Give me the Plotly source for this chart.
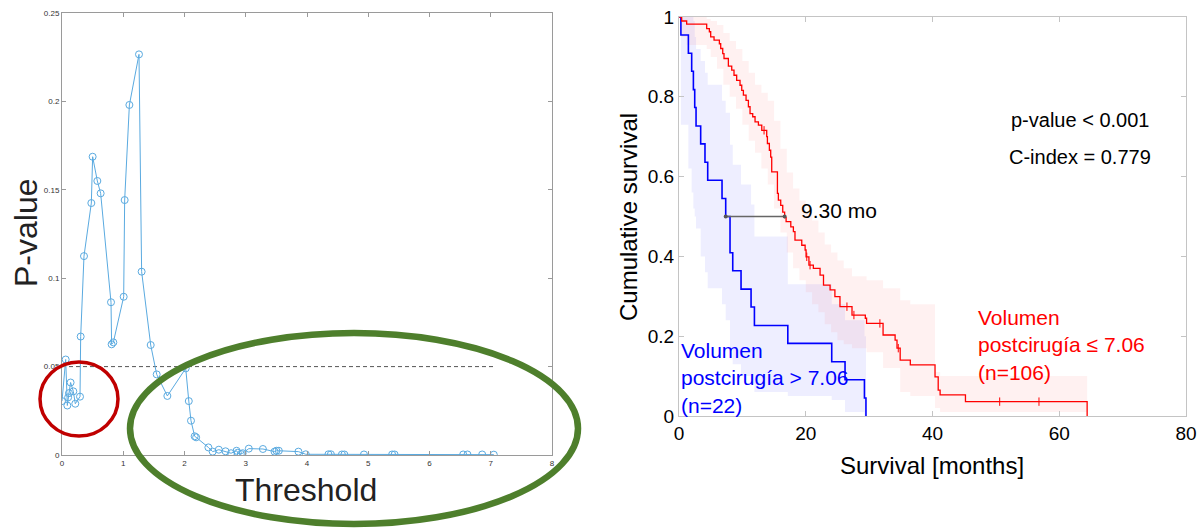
import plotly.graph_objects as go

W, H = 1203, 528

# ---------------- left panel: p-value vs. threshold ----------------
threshold = [0, 0.06, 0.087, 0.10, 0.114, 0.14, 0.185, 0.217, 0.294, 0.305,
             0.359, 0.479, 0.50, 0.577, 0.631, 0.80, 0.81, 0.838, 1.007, 1.023,
             1.10, 1.257, 1.30, 1.448, 1.546, 1.72, 2.02, 2.07, 2.106, 2.166,
             2.19, 2.39, 2.46, 2.56, 2.67, 2.76, 2.85, 2.87, 2.92, 2.95,
             3.05, 3.28, 3.47, 3.50, 3.54, 3.86, 3.98, 4.35, 4.39, 4.57,
             4.61, 4.93, 5.39, 5.43, 6.55, 6.62, 6.86, 7.05]
p_value = [0.0305, 0.054, 0.028, 0.0326, 0.035, 0.041, 0.036, 0.029, 0.033, 0.067,
           0.1125, 0.1425, 0.1687, 0.155, 0.148, 0.0864, 0.0626, 0.0637, 0.0895, 0.1442,
           0.198, 0.2266, 0.1037, 0.0622, 0.0456, 0.0334, 0.049, 0.0305, 0.0194, 0.0106,
           0.010, 0.0043, 0.0019, 0.003, 0.0021, 0.001, 0.0024, 0.0013, 0.0006, 0.001,
           0.0036, 0.0034, 0.0019, 0.0024, 0.0024, 0.0019, 0.0004, 0.0004, 0.0004, 0.0003,
           0.0003, 0.0003, 0.0003, 0.0003, 0.0003, 0.0003, 0.0003, 0.0002]
alpha = 0.05
left_xticks = [0, 1, 2, 3, 4, 5, 6, 7, 8]
left_yticks = [0, 0.05, 0.1, 0.15, 0.2, 0.25]
left_yticklabels = ["0", "0.05", "0.1", "0.15", "0.2", "0.25"]

# ---------------- right panel: Kaplan-Meier curves ----------------
# group "> 7.06" (n=22)
blue_t = [0, 0.3, 1.48, 2.0, 2.27, 2.48, 2.69, 3.42, 4.1, 4.53, 6.79, 7.37,
          8.05, 8.48, 9.79, 11.37, 11.9, 17.17, 24.1, 26.2, 29.26, 29.5]
blue_s = [1, 0.955, 0.909, 0.864, 0.818, 0.773, 0.727, 0.682, 0.636, 0.591, 0.545, 0.5,
          0.409, 0.364, 0.318, 0.273, 0.227, 0.182, 0.136, 0.091, 0.045, 0]
blue_hi = [1, 1, 1, 1, 0.99, 0.95, 0.92, 0.89, 0.86, 0.83, 0.79, 0.76,
           0.68, 0.63, 0.58, 0.53, 0.45, 0.33, 0.28, 0.24, 0.20, 0.20]
blue_lo = [1, 0.73, 0.62, 0.56, 0.52, 0.50, 0.47, 0.40, 0.36, 0.32, 0.28, 0.24,
           0.17, 0.13, 0.10, 0.08, 0.06, 0.05, 0.04, 0.01, 0, 0]

# group "<= 7.06" (n=106)
red_t = [0, 0.42, 1.21, 4.37, 4.79, 5.0, 5.53, 6.37, 6.58, 6.9,
         7.1, 7.79, 8.32, 8.68, 9.1, 9.63, 9.9, 10.16, 10.58, 10.95,
         11.21, 11.63, 12.0, 12.53, 13.06, 13.84, 13.95, 14.26, 14.47, 14.63,
         15.53, 15.68, 16.05, 16.37, 16.67, 16.9, 17.64, 18.05, 18.3, 19.37,
         19.9, 20.05, 20.5, 21.2, 22.26, 22.8, 23.84, 24.6, 25.4, 27.3,
         29.4, 29.6, 32.2, 34.1, 34.4, 34.9, 36.5, 40.4, 40.9, 41.2,
         45.2, 64.4]
red_s = [1, 0.99, 0.982, 0.971, 0.963, 0.95, 0.942, 0.933, 0.921, 0.908,
         0.896, 0.877, 0.867, 0.854, 0.841, 0.829, 0.816, 0.804, 0.791, 0.775,
         0.758, 0.75, 0.737, 0.729, 0.716, 0.70, 0.683, 0.666, 0.649, 0.612,
         0.558, 0.541, 0.528, 0.511, 0.497, 0.487, 0.474, 0.462, 0.441, 0.428,
         0.416, 0.399, 0.378, 0.37, 0.353, 0.328, 0.316, 0.299, 0.274, 0.253,
         0.245, 0.232, 0.203, 0.19, 0.17, 0.14, 0.128, 0.098, 0.065, 0.053,
         0.036, 0]
red_cens_t = [13.42, 20.16, 20.68, 26.5, 27.6, 31.7, 34.6, 50.6, 56.8]
red_cens_s = [0.716, 0.399, 0.378, 0.274, 0.253, 0.232, 0.17, 0.036, 0.036]

red_ci_t = [0, 0.42, 1.21, 4.37, 5.0, 6.0, 7.0, 8.0, 9.0, 10.0,
            11.0, 12.0, 13.0, 14.0, 15.0, 16.0, 17.0, 18.0, 19.0, 20.0,
            21.0, 22.0, 23.0, 24.0, 25.0, 26.0, 27.3, 29.6, 32.2, 34.9,
            36.5, 40.4, 41.2, 45.2, 64.4]
red_ci_hi = [1, 1, 1, 0.995, 0.99, 0.98, 0.96, 0.94, 0.92, 0.89,
             0.86, 0.83, 0.81, 0.79, 0.74, 0.67, 0.61, 0.57, 0.54, 0.51,
             0.49, 0.46, 0.43, 0.41, 0.39, 0.37, 0.35, 0.34, 0.32, 0.29,
             0.28, 0.11, 0.10, 0.10, 0.10]
red_ci_lo = [1, 0.95, 0.93, 0.92, 0.90, 0.87, 0.83, 0.80, 0.77, 0.73,
             0.69, 0.66, 0.62, 0.58, 0.52, 0.46, 0.41, 0.37, 0.34, 0.31,
             0.28, 0.26, 0.23, 0.21, 0.19, 0.18, 0.17, 0.16, 0.12, 0.06,
             0.05, 0.02, 0.01, 0.01, 0.01]

median_blue = 7.37
median_red = 16.67
p_text = "p-value < 0.001"
c_text = "C-index = 0.779"
right_xticks = [0, 20, 40, 60, 80]
right_yticks = [0, 0.2, 0.4, 0.6, 0.8, 1]
right_yticklabels = ["0", "0.2", "0.4", "0.6", "0.8", "1"]

FONT = "Liberation Sans, Arial, Helvetica, sans-serif"


def px(x):
    return x / W


def py(y):
    return 1 - y / H


def step_xy(t, v, t_end):
    xs, ys = [], []
    for i in range(len(t)):
        nxt = t[i + 1] if i + 1 < len(t) else t_end
        xs += [t[i], nxt]
        ys += [v[i], v[i]]
    return xs, ys


def band(t, lo, hi, t_end):
    ux, uy = step_xy(t, hi, t_end)
    lx, ly = step_xy(t, lo, t_end)
    return ux + lx[::-1], uy + ly[::-1]


fig = go.Figure()

# left panel traces
fig.add_trace(go.Scatter(
    x=[threshold[0], threshold[-1]], y=[alpha, alpha], mode="lines",
    line=dict(color="#555555", width=1, dash="4px,3px"),
    xaxis="x", yaxis="y", showlegend=False, hoverinfo="skip"))
fig.add_trace(go.Scatter(
    x=threshold, y=p_value, mode="lines+markers",
    line=dict(color="#5aaae0", width=1),
    marker=dict(symbol="circle-open", size=7, color="#5aaae0", line=dict(width=1)),
    xaxis="x", yaxis="y", showlegend=False))

# right panel: confidence bands
bx, by = band(blue_t, blue_lo, blue_hi, blue_t[-1])
fig.add_trace(go.Scatter(x=bx, y=by, fill="toself", mode="lines", line=dict(width=0),
                         fillcolor="rgba(70,70,255,0.09)", xaxis="x2", yaxis="y2",
                         showlegend=False, hoverinfo="skip"))
rx, ry = band(red_ci_t, red_ci_lo, red_ci_hi, red_ci_t[-1])
fig.add_trace(go.Scatter(x=rx, y=ry, fill="toself", mode="lines", line=dict(width=0),
                         fillcolor="rgba(255,60,60,0.07)", xaxis="x2", yaxis="y2",
                         showlegend=False, hoverinfo="skip"))

# survival curves
fig.add_trace(go.Scatter(x=blue_t, y=blue_s, mode="lines", line=dict(color="#0000ff", width=1.6, shape="hv"),
                         xaxis="x2", yaxis="y2", showlegend=False))
fig.add_trace(go.Scatter(x=red_t, y=red_s, mode="lines", line=dict(color="#ff0000", width=1.3, shape="hv"),
                         xaxis="x2", yaxis="y2", showlegend=False))
fig.add_trace(go.Scatter(x=red_cens_t, y=red_cens_s, mode="markers",
                         marker=dict(symbol="line-ns", size=6, color="#ff0000", line=dict(width=1, color="#ff0000")),
                         xaxis="x2", yaxis="y2", showlegend=False))

# median difference
fig.add_trace(go.Scatter(x=[median_blue, median_red], y=[0.5, 0.5], mode="lines+markers",
                         line=dict(color="#666666", width=1.5),
                         marker=dict(symbol="circle", size=4, color="#555555"),
                         xaxis="x2", yaxis="y2", showlegend=False))

axis_common = dict(showgrid=False, zeroline=False, showline=True, mirror="ticks",
                   ticks="inside", automargin=False)

fig.update_layout(
    width=W, height=H, margin=dict(l=0, r=0, t=0, b=0),
    paper_bgcolor="white", plot_bgcolor="white",
    font=dict(family=FONT, color="#000000"),
    xaxis=dict(domain=[px(62), px(552)], range=[0, 8], tickvals=left_xticks,
               linecolor="#9a9a9a", tickcolor="#9a9a9a", ticklen=4, linewidth=1,
               tickfont=dict(size=8, color="#333333"), anchor="y", **axis_common),
    yaxis=dict(domain=[py(455), py(13)], range=[0, 0.25], tickvals=left_yticks,
               ticktext=left_yticklabels, linecolor="#9a9a9a", tickcolor="#9a9a9a",
               ticklen=4, linewidth=1, tickfont=dict(size=8, color="#333333"),
               anchor="x", **axis_common),
    xaxis2=dict(domain=[px(679), px(1186)], range=[0, 80], tickvals=right_xticks,
                linecolor="#c4c4c4", tickcolor="#c4c4c4", ticklen=5, linewidth=1,
                tickfont=dict(size=19), anchor="y2", **axis_common),
    yaxis2=dict(domain=[py(416), py(17)], range=[0, 1], tickvals=right_yticks,
                ticktext=right_yticklabels, linecolor="#c4c4c4", tickcolor="#c4c4c4",
                ticklen=5, linewidth=1, tickfont=dict(size=19), anchor="x2",
                **axis_common),
)

centered = dict(xref="paper", yref="paper", xanchor="center", yanchor="middle", showarrow=False)
ann = []
# axis titles
ann.append(dict(text="P-value", x=px(26), y=py(233), textangle=-90,
                font=dict(size=32, color="#222222"), **centered))
ann.append(dict(text="Threshold", x=px(306), y=py(490),
                font=dict(size=32, color="#222222"), **centered))
ann.append(dict(text="Cumulative survival", x=px(628), y=py(217), textangle=-90,
                font=dict(size=24), **centered))
ann.append(dict(text="Survival [months]", x=px(932), y=py(465),
                font=dict(size=24), **centered))
# statistics
ann.append(dict(text=p_text, x=63.3, y=0.741, xref="x2", yref="y2", showarrow=False,
                font=dict(size=20)))
ann.append(dict(text=c_text, x=63.3, y=0.649, xref="x2", yref="y2", showarrow=False,
                font=dict(size=20)))
ann.append(dict(text=f"{median_red - median_blue:.2f} mo", x=median_red + 2.2, y=0.515,
                xref="x2", yref="y2", xanchor="left", showarrow=False, font=dict(size=21)))
# group labels
ann.append(dict(text="Volumen<br>postcirugía > 7.06<br>(n=22)", x=0, y=0.095, xref="x2", yref="y2",
                xanchor="left", align="left", showarrow=False, font=dict(size=21, color="#0000ff")))
ann.append(dict(text="Volumen<br>postcirugía ≤ 7.06<br>(n=106)", x=46.9, y=0.178, xref="x2", yref="y2",
                xanchor="left", align="left", showarrow=False, font=dict(size=21, color="#ff0000")))
fig.update_layout(annotations=ann)

# highlight ellipses
fig.add_shape(type="circle", xref="paper", yref="paper",
              x0=px(40), x1=px(118), y0=py(436), y1=py(362),
              line=dict(color="#c00000", width=3.5))
fig.add_shape(type="circle", xref="paper", yref="paper",
              x0=px(130), x1=px(578), y0=py(524), y1=py(333),
              line=dict(color="#4e7f2c", width=6.5))

fig.write_html("out.html")
